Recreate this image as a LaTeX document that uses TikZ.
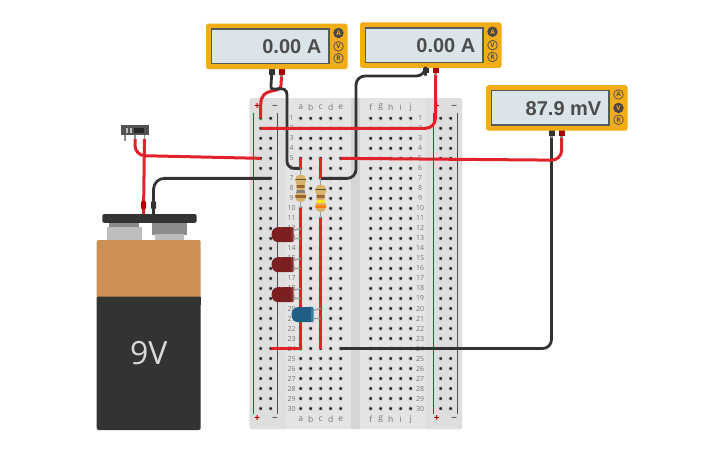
\documentclass[tikz,border=0pt]{standalone}
\usepackage{fontspec}
\setmainfont{Open Sans}
\newfontfamily\meterfont{Liberation Sans}
\usetikzlibrary{calc}

\definecolor{meterorange}{HTML}{F2AC16}
\definecolor{screenblue}{HTML}{DBE4E8}
\definecolor{screenedge}{HTML}{555A5C}
\definecolor{wirered}{HTML}{E2222A}
\definecolor{wireblack}{HTML}{333333}
\definecolor{boardgrey}{HTML}{E4E4E4}
\definecolor{railgrey}{HTML}{DEDEDE}
\definecolor{gapgrey}{HTML}{D5D5D5}
\definecolor{labelgrey}{HTML}{777777}
\definecolor{restan}{HTML}{D9B36E}
\definecolor{leadgrey}{HTML}{A0A0A0}
\definecolor{ledred}{HTML}{7C1F21}
\definecolor{ledredrim}{HTML}{863031}
\definecolor{ledblue}{HTML}{1F5F85}
\definecolor{ledbluerim}{HTML}{3F7C9E}
\definecolor{batorange}{HTML}{CD8F53}

\tikzset{
  hole/.style={circle, fill=black!85, draw=black!17, line width=1pt, inner sep=0pt, minimum size=4.2pt},
  rowlabel/.style={text=labelgrey, font=\fontsize{7}{7}\selectfont, inner sep=0pt},
  collabel/.style={text=labelgrey, font=\fontsize{8.5}{9}\selectfont, inner sep=0pt},
  railred/.style={draw=red!60!black!85, line width=1pt},
  railblack/.style={draw=black!70, line width=1pt},
  redwire/.style={draw=wirered, line width=3pt},
  blackwire/.style={draw=wireblack, line width=2.8pt},
  lead/.style={draw=leadgrey, line width=1.3pt},
  btnon/.style={circle, fill=black!72, draw=black!72, line width=0.7pt, text=meterorange, font=\fontsize{6.5}{7}\selectfont\bfseries, inner sep=0pt, minimum size=9.6pt},
  btnoff/.style={circle, fill=meterorange, draw=black!70, line width=0.7pt, text=black!70, font=\fontsize{6.5}{7}\selectfont\bfseries, inner sep=0pt, minimum size=9.6pt},
  clipnode/.style={rounded corners=1.5pt, inner sep=0pt, minimum width=5pt, minimum height=9pt}
}

% name, x, y, reading, styles of the three buttons
\newcommand{\meter}[7]{
  \begin{scope}[shift={(#2,#3)}]
    \fill[black!80] (62.5,45) rectangle (68.5,51);
    \fill[black!45] (64.2,51) rectangle (66.8,54);
    \fill[red!65!black] (72.5,45) rectangle (78.5,51);
    \fill[black!45] (74.2,51) rectangle (76.8,54);
    \coordinate (#1-black) at (65.5,53);
    \coordinate (#1-red) at (75.5,53);
    \fill[meterorange, rounded corners=2.5pt] (0,0) rectangle (141.5,45.5);
    \draw[screenedge, fill=screenblue, line width=1.5pt] (5.5,5.5) rectangle (123,40);
    \node[anchor=east, inner sep=0pt, text=black!70, font=\meterfont\bfseries\fontsize{20}{21}\selectfont] (#1) at (115.5,23) {#4};
    \foreach \bt/\by/\bs in {A/9.3/#5, V/22.7/#6, R/34.5/#7}
      \node[\bs] (#1-\bt) at (132.5,\by) {\bt};
  \end{scope}
}

% from hole, to hole, three bands
\newcommand{\resistor}[5]{
  \draw[lead] (#1.center) -- (#2.center);
  \begin{scope}[shift={($(#1)!.5!(#2)$)}]
    \def\rbody{(0,-13.5) .. controls (4,-13.5) and (5.5,-11) .. (5.5,-8) .. controls (5.5,-5) and (4,-5) .. (4,-3) -- (4,3) .. controls (4,5) and (5.5,5) .. (5.5,8) .. controls (5.5,11) and (4,13.5) .. (0,13.5) .. controls (-4,13.5) and (-5.5,11) .. (-5.5,8) .. controls (-5.5,5) and (-4,5) .. (-4,3) -- (-4,-3) .. controls (-4,-5) and (-5.5,-5) .. (-5.5,-8) .. controls (-5.5,-11) and (-4,-13.5) .. (0,-13.5) -- cycle}
    \fill[restan] \rbody;
    \clip \rbody;
    \fill[black!45!olive] (-6,-9.7) rectangle (6,-8.7);
    \fill[#3] (-6,-3) rectangle (6,-0.4);
    \fill[#4] (-6,2) rectangle (6,4.6);
    \fill[#5] (-6,7) rectangle (6,9.6);
  \end{scope}
}

% upper hole, lower hole, body colour, rim colour
\newcommand{\led}[4]{
  \begin{scope}[shift={($(#1)!.5!(#2)$)}]
    \coordinate (lu) at (-7.5,-3);
    \coordinate (ll) at (-7.5,5);
    \fill[#3, rounded corners=6.5pt] (-29,-6.3) rectangle (-14,8.7);
    \fill[#3, rounded corners=2pt] (-20,-6.3) rectangle (-8,8.7);
    \fill[#4, rounded corners=1pt] (-9.5,-6.3) rectangle (-7,8.7);
  \end{scope}
  \draw[lead] (lu) -- (#1.center);
  \draw[lead] (ll) -- (#2.center);
}

\begin{document}
\begin{tikzpicture}[x=1pt, y=-1pt]
  \useasboundingbox (0,0) rectangle (725,453);
  \fill[white] (0,0) rectangle (725,453);

  % breadboard
  \fill[boardgrey, rounded corners=2pt] (249.5,98) rectangle (462,429);
  \fill[railgrey, rounded corners=2pt] (249.5,98) rectangle (285.5,429);
  \fill[railgrey, rounded corners=2pt] (426,98) rectangle (462,429);
  \fill[gapgrey] (351,98) rectangle (360,429);
  \draw[railred] (253.5,113) -- (253.5,414);
  \draw[railblack] (277.7,113) -- (277.7,414);
  \draw[railred] (433.3,113) -- (433.3,414);
  \draw[railblack] (457.7,113) -- (457.7,414);

  \foreach \c/\x in {lp/260.7, ln/270.7, a/300.7, b/310.7, c/320.7, d/330.7, e/340.7, f/370.7, g/380.7, h/390.7, i/400.7, j/410.7, rp/440.7, rn/450.7}
    \foreach \r in {1,...,30}
      \node[hole] (\c-\r) at (\x,{118.3+10.01*(\r-1)}) {};

  \foreach \r in {1,...,30} {
    \node[rowlabel] (ll-\r) at (291.5,{118.3+10.01*(\r-1)}) {\r};
    \node[rowlabel] (rl-\r) at (420,{118.3+10.01*(\r-1)}) {\r};
  }
  \foreach \c/\x in {a/300.7, b/310.7, c/320.7, d/330.7, e/340.7, f/370.7, g/380.7, h/390.7, i/400.7, j/410.7} {
    \node[collabel] (top-\c) at (\x,107.5) {\c};
    \node[collabel] (bot-\c) at (\x,419) {\c};
  }
  \foreach \n/\x/\y in {tl/257.3/107, bl/257.3/419, tr/436.7/107, br/436.7/419}
    \node[text=red!70!black, font=\fontsize{10}{10}\selectfont\bfseries, inner sep=0pt] (plus-\n) at (\x,\y) {+};
  \foreach \n/\x/\y in {tl/275/107, bl/275/419, tr/454.3/107, br/454.3/419}
    \node[text=black!60, font=\fontsize{10}{10}\selectfont\bfseries, inner sep=0pt] (minus-\n) at (\x,\y) {\textminus};

  % meters
  \meter{ma}{206}{23.7}{0.00 A}{btnon}{btnoff}{btnoff}
  \meter{mb}{360}{22.4}{0.00 A}{btnon}{btnoff}{btnoff}
  \meter{mc}{486}{85.2}{87.9 mV}{btnoff}{btnon}{btnoff}

  % battery
  \fill[black!45] (109.3,222) rectangle (139.3,228);
  \fill[black!26] (107,227) rectangle (142,241);
  \fill[black!45] (151.7,222) rectangle (186.7,235);
  \fill[black!26] (154.5,234) rectangle (184,241);
  \fill[batorange, rounded corners=2pt] (96.7,240) rectangle (200.7,300);
  \fill[wireblack, rounded corners=2pt] (96.7,296.5) rectangle (200.7,430);
  \fill[wireblack] (96.7,296.5) rectangle (200.7,305);
  \fill[wireblack, rounded corners=2pt] (102.3,214) rectangle (196.7,222.8);
  \node[text=black!15, font=\fontsize{32}{32}\selectfont, inner sep=0pt] (batlabel) at (148.7,353.3) {9V};
  \coordinate (batplus) at (143.5,214);
  \coordinate (batminus) at (153.5,214);

  % switch
  \fill[black!45] (124,135) rectangle (125.6,141);
  \fill[black!45] (134.2,135) rectangle (135.8,141);
  \fill[black!45] (143.7,135) rectangle (145.3,141);
  \fill[black!68] (121,125) rectangle (149,135);
  \fill[black!85] (134,127.5) rectangle (144,133);
  \fill[black!25] (126,127.5) rectangle (128,133);
  \fill[black!25] (129.5,127.5) rectangle (131.5,133);
  \coordinate (swa) at (135,139);
  \coordinate (swb) at (144.5,139);
  \coordinate (swc) at (135,155.5);

  % wires
  \coordinate (w1a) at (281,85);
  \coordinate (w1b) at (260.7,105);
  \draw[redwire] (ma-red) -- (w1a) .. controls (281,95) and (260.7,85) .. (w1b) -- (lp-1.center);
  \coordinate (w2a) at (271,80);
  \coordinate (w2b) at (287,102);
  \draw[blackwire, rounded corners=7pt] (ma-black) -- (w2a) .. controls (271,93) and (287,83) .. (w2b) |- (a-6.center);
  \coordinate (w3a) at (356,76);
  \coordinate (w3b) at (356,178.4);
  \draw[blackwire, rounded corners=9pt] (mb-black) |- (w3a) -- (w3b) -- (c-7.center);
  \draw[blackwire, rounded corners=9pt] (mc-black) |- (e-24.center);
  \draw[blackwire, rounded corners=11pt] (batminus) |- (ln-7.center);
  \coordinate (w4a) at (561.7,160.2);
  \draw[redwire, rounded corners=10pt] (mb-red) |- (lp-2.center);
  \draw[redwire, rounded corners=10pt] (mc-red) -- (w4a) -- (e-5.center);
  \draw[redwire, rounded corners=10pt] (swa) -- (swc) -- (lp-5.center);
  \draw[redwire] (swb) -- (batplus);
  \draw[redwire] (a-5.center) -- (a-6.center);
  \draw[redwire] (c-5.center) -- (c-7.center);
  \draw[redwire] (a-10.center) -- (a-24.center) -- (ln-24.center);
  \draw[redwire] (c-11.center) -- (c-24.center);
  \node[clipnode, fill=red!70!black] (clipplus) at (143.5,205) {};
  \node[clipnode, fill=wireblack] (clipminus) at (153.5,205) {};

  % parts on the board
  \resistor{a-6}{a-10}{brown!80!black}{black!50}{brown!80!black}
  \resistor{c-7}{c-11}{brown!80!black}{yellow!90!orange}{orange}
  \led{a-12}{a-13}{ledred}{ledredrim}
  \led{a-15}{a-16}{ledred}{ledredrim}
  \led{a-18}{a-19}{ledred}{ledredrim}
  \led{c-20}{c-21}{ledblue}{ledbluerim}
\end{tikzpicture}
\end{document}
